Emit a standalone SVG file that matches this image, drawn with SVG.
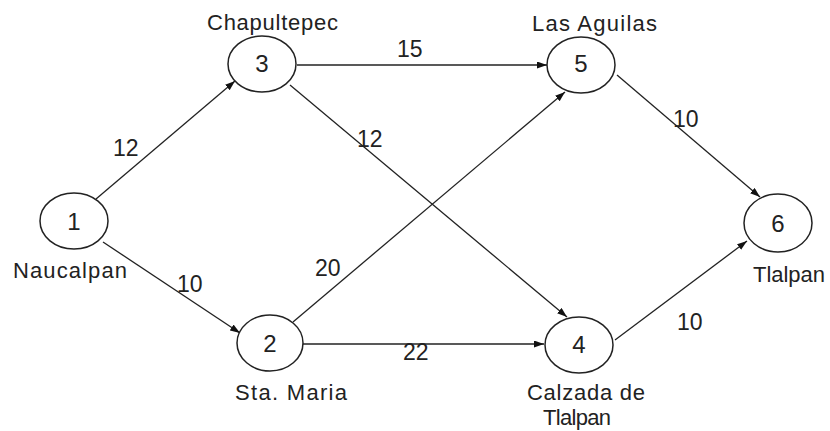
<svg xmlns="http://www.w3.org/2000/svg" width="830" height="431" viewBox="0 0 830 431">
<style>
.node ellipse{fill:none;stroke:#222;stroke-width:1.5}
.num{font-family:"Liberation Sans",Arial,sans-serif;font-size:24px;fill:#222;text-anchor:middle}
.lbl{font-family:"Liberation Sans",Arial,sans-serif;font-size:22px;fill:#222}
.w{font-family:"Liberation Sans",Arial,sans-serif;font-size:23px;fill:#222}
#edges path{fill:none;stroke:#222;stroke-width:1.3;marker-end:url(#arr)}
</style>
<defs>
<marker id="arr" markerUnits="userSpaceOnUse" markerWidth="11" markerHeight="8" refX="10" refY="3.5" orient="auto">
<path d="M0,0 L10,3.5 L0,7 z" fill="#111"/>
</marker>
</defs>
<rect width="830" height="431" fill="#fff"/>
<g id="edges">
<path d="M96,199 L235,81"/>
<path d="M103,242 L240,333"/>
<path d="M297,65 L547,65"/>
<path d="M290,85 L567,317"/>
<path d="M293,322 L565,92"/>
<path d="M303,344 L544,344"/>
<path d="M617,75 L760,197"/>
<path d="M615,340 L747,241"/>
</g>
<g id="edge-labels">
<text class="w" x="113" y="156">12</text>
<text class="w" x="177" y="292">10</text>
<text class="w" x="397" y="57">15</text>
<text class="w" x="357" y="147">12</text>
<text class="w" x="315" y="276">20</text>
<text class="w" x="403" y="360">22</text>
<text class="w" x="673" y="127">10</text>
<text class="w" x="677" y="330">10</text>
</g>
<g id="node1" class="node">
<ellipse cx="74" cy="221" rx="34" ry="28"/>
<text class="num" x="74" y="230">1</text>
<text class="lbl" x="13" y="278" textLength="114">Naucalpan</text>
</g>
<g id="node2" class="node">
<ellipse cx="270" cy="343" rx="33" ry="28"/>
<text class="num" x="270" y="352">2</text>
<text class="lbl" x="235" y="400" textLength="112">Sta. Maria</text>
</g>
<g id="node3" class="node">
<ellipse cx="262" cy="64" rx="34" ry="28"/>
<text class="num" x="262" y="72">3</text>
<text class="lbl" x="207" y="30" textLength="131">Chapultepec</text>
</g>
<g id="node4" class="node">
<ellipse cx="579" cy="345" rx="34" ry="28"/>
<text class="num" x="579" y="353">4</text>
<text class="lbl" x="527" y="400" textLength="118">Calzada de</text>
<text class="lbl" x="543" y="425" textLength="68">Tlalpan</text>
</g>
<g id="node5" class="node">
<ellipse cx="581" cy="65" rx="34" ry="28"/>
<text class="num" x="581" y="72">5</text>
<text class="lbl" x="532" y="31" textLength="125">Las Aguilas</text>
</g>
<g id="node6" class="node">
<ellipse cx="778" cy="223" rx="34" ry="29"/>
<text class="num" x="778" y="232">6</text>
<text class="lbl" x="753" y="282" textLength="72">Tlalpan</text>
</g>
</svg>
